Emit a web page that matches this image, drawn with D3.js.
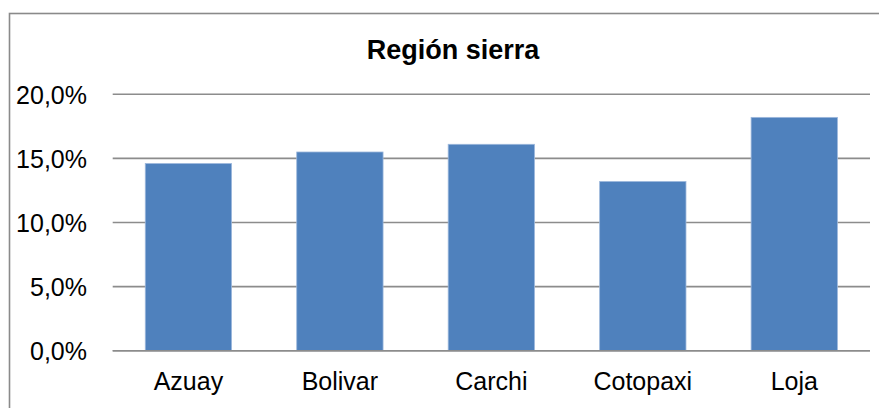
<!DOCTYPE html>
<html>
<head>
<meta charset="utf-8">
<script src="https://cdn.jsdelivr.net/npm/d3@7"></script>
<style>
  body { margin: 0; background: #fff; }
  text { font-family: Arial, "Liberation Sans", sans-serif; fill: #000; }
</style>
</head>
<body>
<svg width="879" height="408"></svg>
<script>
var categories = ["Azuay", "Bolivar", "Carchi", "Cotopaxi", "Loja"];
var values = [0.146, 0.155, 0.161, 0.132, 0.182];
var yTicks = [0, 0.05, 0.10, 0.15, 0.20];
var title = "Región sierra";

var svg = d3.select("svg");
var width = +svg.attr("width");
var height = +svg.attr("height");

// outer frame (right/bottom edges fall outside the picture)
svg.append("rect")
    .attr("x", 9.5)
    .attr("y", 13.5)
    .attr("width", width + 10)
    .attr("height", height + 10)
    .attr("fill", "#fff")
    .attr("stroke", "#8a8a8a")
    .attr("stroke-width", 1.6);

var plotLeft = 112.7, plotRight = 870, plotTop = 94.3, plotBottom = 350.7;

var x = d3.scaleBand()
    .domain(categories)
    .range([plotLeft, plotRight])
    .paddingInner(0.43)
    .paddingOuter(0.215);

var y = d3.scaleLinear()
    .domain([0, 0.20])
    .range([plotBottom, plotTop]);

var fmt = function (d) { return d3.format(".1f")(d * 100).replace(".", ",") + "%"; };

svg.append("text")
    .attr("x", 453)
    .attr("y", 59)
    .attr("text-anchor", "middle")
    .style("font-size", "27px")
    .style("font-weight", "bold")
    .text(title);

// gridlines
svg.append("g")
    .selectAll("line")
    .data(yTicks)
    .enter().append("line")
    .attr("x1", plotLeft)
    .attr("x2", plotRight)
    .attr("y1", function (d) { return y(d); })
    .attr("y2", function (d) { return y(d); })
    .attr("stroke", "#8c8c8c")
    .attr("stroke-width", 1.6);

// y labels
svg.append("g")
    .selectAll("text")
    .data(yTicks)
    .enter().append("text")
    .attr("x", 87)
    .attr("y", function (d) { return y(d) + 9.2; })
    .attr("text-anchor", "end")
    .style("font-size", "25px")
    .text(fmt);

// bars
svg.append("g")
    .selectAll("rect")
    .data(values)
    .enter().append("rect")
    .attr("x", function (d, i) { return x(categories[i]); })
    .attr("width", x.bandwidth())
    .attr("y", function (d) { return y(d); })
    .attr("height", function (d) { return plotBottom - y(d); })
    .attr("fill", "#4f81bd")
    .attr("stroke", "#9db8dc")
    .attr("stroke-width", 0.8);

// baseline over bars
svg.append("line")
    .attr("x1", plotLeft)
    .attr("x2", plotRight)
    .attr("y1", plotBottom)
    .attr("y2", plotBottom)
    .attr("stroke", "#8c8c8c")
    .attr("stroke-width", 1.6);

// category labels
svg.append("g")
    .selectAll("text")
    .data(categories)
    .enter().append("text")
    .attr("x", function (d) { return x(d) + x.bandwidth() / 2; })
    .attr("y", 389.5)
    .attr("text-anchor", "middle")
    .style("font-size", "25px")
    .text(function (d) { return d; });
</script>
</body>
</html>
